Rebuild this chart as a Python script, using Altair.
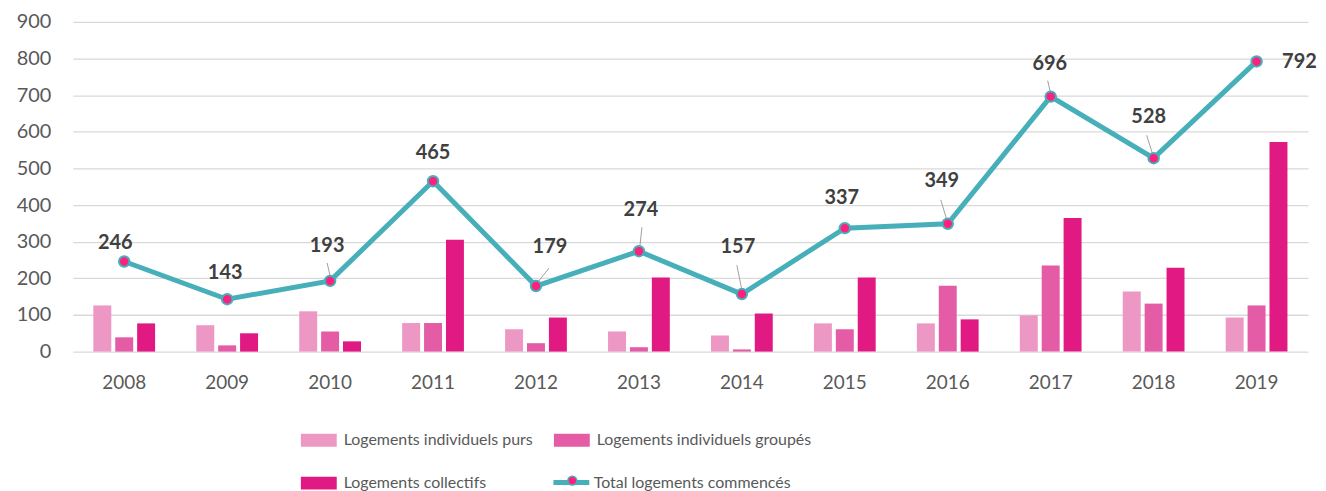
import altair as alt
import pandas as pd

# ---- data ----
years = ["2008", "2009", "2010", "2011", "2012", "2013", "2014", "2015", "2016", "2017", "2018", "2019"]
purs = [126, 72, 110, 78, 61, 55, 44, 77, 77, 99, 164, 93]
groupes = [39, 17, 55, 78, 23, 12, 6, 61, 180, 235, 131, 126]
collectifs = [77, 50, 28, 305, 93, 202, 104, 202, 88, 365, 229, 572]
totals = [246, 143, 193, 465, 179, 274, 157, 337, 349, 696, 528, 792]
series_names = ["Logements individuels purs", "Logements individuels groupés", "Logements collectifs"]
line_name = "Total logements commencés"
y_ticks = [0, 100, 200, 300, 400, 500, 600, 700, 800, 900]

# ---- styling ----
bar_colors = ["#EC97C4", "#E35CA5", "#E01A82"]
teal = "#47AFB9"
pink = "#FF1F7C"
grid_color = "#D9D9D9"
axis_label_color = "#595959"
font = "Lato"
legend_font = "Lato"
legend_size = 16
# label offsets (px) from each point, mimicking the original label placement
label_offsets = [(-9, -19), (-2, -26), (-3, -35), (0, -28), (14, -39), (2, -41),
                 (-4, -47), (-3, -30), (-6, -43), (-1, -33), (-5, -41), (43, 1)]
# leader lines (px offsets from point): (x1, y1, x2, y2)
leaders = {"2010": (-3, -18, 0, -5), "2012": (13, -18, 2, -4), "2013": (3, -24, 1, -5),
           "2014": (-5, -29, 0, -4), "2016": (-7, -24, -1, -4), "2017": (-3, -16, 0, -3),
           "2018": (-7, -23, -1, -4)}

rows = []
for i, y in enumerate(years):
    for name, vals in zip(series_names, [purs, groupes, collectifs]):
        rows.append({"year": y, "serie": name, "value": vals[i]})
bar_df = pd.DataFrame(rows)
tot_df = pd.DataFrame({"year": years, "total": totals, "serie": [line_name] * len(years), "pt": ["pt"] * len(years)})

x_enc = alt.X("year:N", title=None, sort=years,
              scale=alt.Scale(paddingInner=0.4, paddingOuter=0.2))
y_scale = alt.Scale(domain=[0, 900], nice=False)
y_axis = alt.Axis(values=y_ticks, labelOverlap=False)


def y_enc(field):
    return alt.Y(field, title=None, scale=y_scale, axis=y_axis)


bars = alt.Chart(bar_df).mark_bar().encode(
    x=x_enc,
    xOffset=alt.XOffset("serie:N", scale=alt.Scale(domain=series_names, paddingInner=0.18, paddingOuter=0)),
    y=y_enc("value:Q"),
    color=alt.Color("serie:N", scale=alt.Scale(domain=series_names, range=bar_colors),
                    legend=alt.Legend(title=None, orient="none", legendX=229, legendY=402,
                                      direction="horizontal", columns=2, columnPadding=21,
                                      rowPadding=17, labelLimit=400,
                                      symbolType="M-1,-0.36H1V0.36H-1Z", symbolSize=1296,
                                      symbolStrokeWidth=0, labelOffset=7,
                                      labelFont=legend_font, labelFontSize=legend_size,
                                      labelColor=axis_label_color)),
)

line = alt.Chart(tot_df).mark_line(strokeWidth=5).encode(
    x=x_enc,
    y=y_enc("total:Q"),
    stroke=alt.Stroke("serie:N", scale=alt.Scale(domain=[line_name], range=[teal]),
                      legend=alt.Legend(title=None, orient="none", legendX=480, legendY=442,
                                        symbolType="M-1,0H1", symbolSize=1296, symbolStrokeWidth=5,
                                        labelOffset=2, labelLimit=400, labelFont=legend_font,
                                        labelFontSize=legend_size, labelColor=axis_label_color)),
)

layers = [bars, line]

for yr, (x1, y1, x2, y2) in leaders.items():
    layers.append(
        alt.Chart(tot_df[tot_df.year == yr]).mark_rule(
            color="#A0A0A0", strokeWidth=1, xOffset=x1, yOffset=y1, x2Offset=x2, y2Offset=y2
        ).encode(
            x=alt.X("year:N", bandPosition=0.5, sort=years),
            x2=alt.X2("year", bandPosition=0.5),
            y=y_enc("total:Q"),
            y2="total:Q",
        )
    )

points = alt.Chart(tot_df).mark_circle(size=110, opacity=1, stroke=teal, strokeWidth=2).encode(
    x=x_enc,
    y=y_enc("total:Q"),
    fill=alt.Fill("pt:N", scale=alt.Scale(domain=["pt"], range=[pink]),
                  legend=alt.Legend(title=None, orient="none", legendX=492, legendY=451,
                                    symbolType="circle", symbolSize=80, symbolStrokeColor=teal,
                                    symbolStrokeWidth=1.5, labelExpr="''",
                                    labelFont=font, labelFontSize=19)),
)
layers.append(points)

for i, yr in enumerate(years):
    dx, dy = label_offsets[i]
    layers.append(
        alt.Chart(tot_df.iloc[[i]]).mark_text(
            dx=dx, dy=dy, font=font, fontSize=20, fontWeight="bold", color="#404040",
            align="center", baseline="middle"
        ).encode(x=x_enc, y=y_enc("total:Q"), text="total:Q")
    )

chart = alt.layer(*layers).properties(
    width=1240, height=331,
    autosize=alt.AutoSizeParams(type="none"),
    padding={"left": 65, "top": 13, "right": 10, "bottom": 139},
).configure_view(stroke=None).configure_axisY(
    grid=True, gridColor=grid_color, gridWidth=1.3, domain=False, ticks=False,
    labelFont=font, labelFontSize=20, labelColor=axis_label_color, labelPadding=22,
).configure_axisX(
    grid=False, domain=False, ticks=False, labelAngle=0,
    labelFont=font, labelFontSize=19, labelColor=axis_label_color, labelPadding=22,
)

chart.save("out.html", embed_options={"renderer": "svg", "actions": False})
